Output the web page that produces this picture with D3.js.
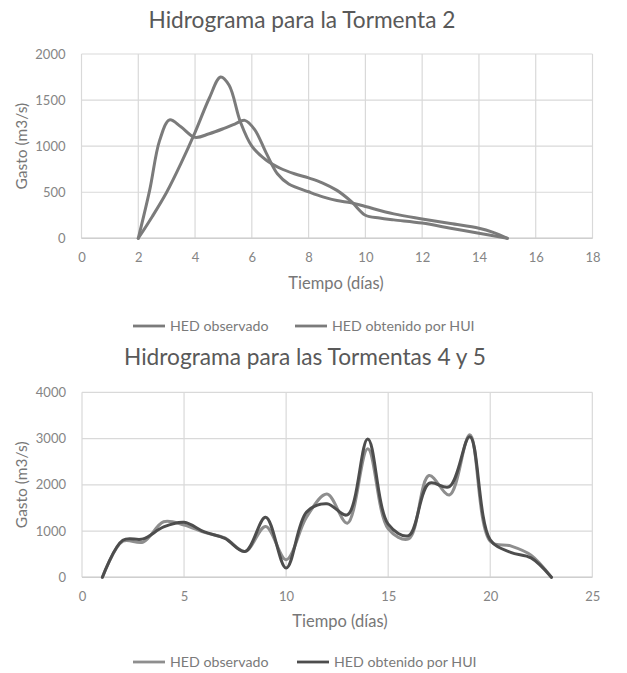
<!DOCTYPE html>
<html>
<head>
<meta charset="utf-8">
<script src="https://cdn.jsdelivr.net/npm/d3@7"></script>
<style>
  html, body { margin: 0; padding: 0; background: #fff; }
  svg { display: block; font-family: Lato, "Open Sans", sans-serif; }
</style>
</head>
<body>
<svg id="chart" width="627" height="673"></svg>
<script>
// Tormenta 2: observed and HUI-derived hydrographs
const t2ObsDays = [2, 2.4, 2.75, 3.1, 3.5, 4, 4.5, 5, 5.4, 5.75, 6.1, 6.5, 6.9, 7.3, 8, 8.5, 9, 9.5, 10, 11, 12, 13, 14, 14.5, 15];
const t2ObsFlow = [0, 520, 1060, 1285, 1210, 1095, 1135, 1190, 1240, 1280, 1180, 930, 700, 590, 505, 450, 410, 385, 345, 265, 210, 160, 110, 65, 0];
const t2HuiDays = [2, 2.5, 3, 3.5, 4, 4.5, 4.9, 5.2, 5.6, 6, 6.5, 7, 7.5, 8, 8.5, 9, 9.5, 10, 10.5, 11, 12, 13, 14, 15];
const t2HuiFlow = [0, 240, 500, 810, 1150, 1520, 1750, 1660, 1260, 1000, 850, 760, 700, 655, 600, 520, 400, 250, 220, 200, 165, 110, 55, 0];

// Tormentas 4 y 5: daily values
const t45Days = [1, 2, 3, 4, 5, 6, 7, 8, 9, 10, 11, 12, 13, 14, 15, 16, 17, 18, 19, 20, 21, 22, 23];
const t45ObsFlow = [0, 780, 760, 1200, 1130, 970, 850, 560, 1100, 380, 1300, 1800, 1170, 2780, 1050, 830, 2200, 1780, 3080, 780, 680, 480, 0];
const t45HuiFlow = [0, 800, 830, 1090, 1190, 980, 840, 560, 1300, 200, 1410, 1590, 1350, 2990, 1150, 900, 2030, 1960, 3040, 810, 540, 420, 0];

// Axis ticks
const t2XTicks = [0, 2, 4, 6, 8, 10, 12, 14, 16, 18];
const t2YTicks = [0, 500, 1000, 1500, 2000];
const t45XTicks = [0, 5, 10, 15, 20, 25];
const t45YTicks = [0, 1000, 2000, 3000, 4000];

const legendNames = ["HED observado", "HED obtenido por HUI"];

const svg = d3.select("#chart");

function zip(xs, ys) { return xs.map((x, i) => ({ x, y: ys[i] })); }

function drawChart(cfg) {
  const g = svg.append("g");
  const x = d3.scaleLinear().domain(cfg.xDomain).range([cfg.left, cfg.right]);
  const y = d3.scaleLinear().domain(cfg.yDomain).range([cfg.bottom, cfg.top]);

  // title
  g.append("text")
    .attr("x", cfg.titleX).attr("y", cfg.titleY)
    .attr("text-anchor", "middle")
    .attr("fill", "#595959")
    .style("font-size", cfg.titleSize + "px")
    .text(cfg.title);

  // gridlines
  g.append("g").selectAll("line").data(cfg.yTicks).join("line")
    .attr("x1", cfg.left).attr("x2", cfg.right)
    .attr("y1", d => y(d)).attr("y2", d => y(d))
    .attr("stroke", "#d9d9d9").attr("stroke-width", 1.2);
  g.append("g").selectAll("line").data(cfg.xTicks).join("line")
    .attr("y1", cfg.top).attr("y2", cfg.bottom)
    .attr("x1", d => x(d)).attr("x2", d => x(d))
    .attr("stroke", "#d9d9d9").attr("stroke-width", 1.2);

  // axes (labels only)
  const xAxis = g.append("g")
    .attr("transform", `translate(0,${cfg.bottom})`)
    .call(d3.axisBottom(x).tickValues(cfg.xTicks).tickSize(0).tickPadding(14));
  const yAxis = g.append("g")
    .attr("transform", `translate(${cfg.left},0)`)
    .call(d3.axisLeft(y).tickValues(cfg.yTicks).tickSize(0).tickPadding(16).tickFormat(d3.format("d")));
  [xAxis, yAxis].forEach(a => {
    a.select(".domain").remove();
    a.selectAll("text")
      .attr("fill", "#858585")
      .style("font-size", "13px")
      .style("font-family", "Lato, sans-serif");
  });
  g.append("line")
    .attr("x1", cfg.left).attr("x2", cfg.right)
    .attr("y1", cfg.bottom).attr("y2", cfg.bottom)
    .attr("stroke", "#cfcfcf").attr("stroke-width", 1.4);

  // axis titles
  g.append("text")
    .attr("x", cfg.xTitleX).attr("y", cfg.xTitleY)
    .attr("text-anchor", "middle")
    .attr("fill", "#777")
    .style("font-size", "16.5px")
    .text("Tiempo (días)");
  g.append("text")
    .attr("transform", `translate(${cfg.yTitleX},${(cfg.top + cfg.bottom) / 2}) rotate(-90)`)
    .attr("text-anchor", "middle")
    .attr("fill", "#777")
    .style("font-size", "15.5px")
    .text("Gasto (m3/s)");

  // series
  const line = d3.line().x(d => x(d.x)).y(d => y(d.y)).curve(d3.curveCatmullRom.alpha(0.5));
  cfg.series.forEach(s => {
    g.append("path")
      .datum(s.data)
      .attr("d", line)
      .attr("fill", "none")
      .attr("stroke", s.color)
      .attr("stroke-width", 3)
      .attr("stroke-linejoin", "round")
      .attr("stroke-linecap", "round");
  });

  // legend
  const legend = g.append("g").attr("transform", `translate(0,${cfg.legendY})`);
  cfg.series.forEach((s, i) => {
    const lx = cfg.legendX[i];
    legend.append("line")
      .attr("x1", lx).attr("x2", lx + 32)
      .attr("y1", 0).attr("y2", 0)
      .attr("stroke", s.color).attr("stroke-width", 2.8);
    legend.append("text")
      .attr("x", lx + 37).attr("y", 0)
      .attr("dy", "0.35em")
      .attr("fill", "#7a7a7a")
      .style("font-size", "14.2px")
      .text(legendNames[i]);
  });
}

drawChart({
  title: "Hidrograma para la Tormenta 2",
  titleX: 302, titleY: 28, titleSize: 22.7,
  xDomain: [0, 18], yDomain: [0, 2000],
  left: 81.5, right: 592.5, top: 54, bottom: 238.3,
  xTicks: t2XTicks, yTicks: t2YTicks,
  xTitleX: 336, xTitleY: 289, yTitleX: 27,
  legendY: 326, legendX: [133, 295],
  series: [
    { data: zip(t2ObsDays, t2ObsFlow), color: "#7b7b7b" },
    { data: zip(t2HuiDays, t2HuiFlow), color: "#7b7b7b" }
  ]
});

drawChart({
  title: "Hidrograma para las Tormentas 4 y 5",
  titleX: 305, titleY: 365, titleSize: 22.7,
  xDomain: [0, 25], yDomain: [0, 4000],
  left: 82, right: 592.3, top: 392.3, bottom: 577.3,
  xTicks: t45XTicks, yTicks: t45YTicks,
  xTitleX: 340, xTitleY: 627, yTitleX: 27,
  legendY: 662, legendX: [133, 297],
  series: [
    { data: zip(t45Days, t45ObsFlow), color: "#8e8e8e" },
    { data: zip(t45Days, t45HuiFlow), color: "#4d4d4d" }
  ]
});
</script>
</body>
</html>
